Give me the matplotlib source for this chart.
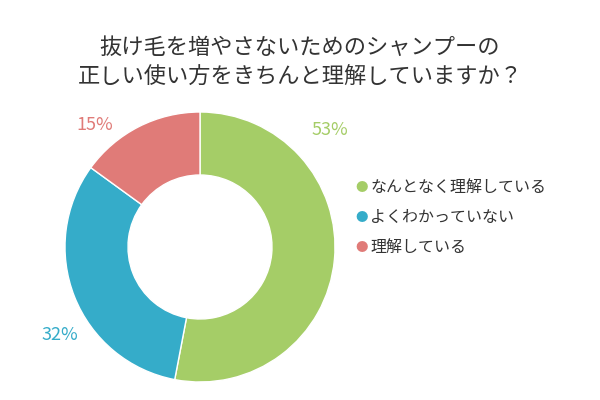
import matplotlib
matplotlib.use("Agg")
import matplotlib.pyplot as plt

categories = ["なんとなく理解している", "よくわかっていない", "理解している"]
values = [53, 32, 15]
colors = ["#a5cd67", "#35acc9", "#e07b78"]
title = "抜け毛を増やさないためのシャンプーの\n正しい使い方をきちんと理解していますか？"

plt.rcParams["font.family"] = "Noto Sans CJK JP"
fig = plt.figure(figsize=(6, 4), dpi=100)
fig.text(0.5, 1 - 62/400, title, ha="center", va="center", fontsize=16, color="#333333", linespacing=1.35)

ax = fig.add_axes([65/600, 18/400, 270/600, 270/400])
wedges, _ = ax.pie(values, colors=colors, startangle=90, counterclock=False, radius=1,
                   wedgeprops=dict(width=(135-72)/135, edgecolor="white", linewidth=1))
ax.set_xlim(-1, 1); ax.set_ylim(-1, 1)
ax.set_aspect("equal")

label_pos = [(330, 130), (60, 335), (95, 125)]
for v, c, (x, y) in zip(values, colors, label_pos):
    fig.text(x/600, 1 - y/400, f"{v}%", color=c, fontsize=13, ha="center", va="center")

for i, (cat, c) in enumerate(zip(categories, colors)):
    y = 1 - (187 + i*30)/400
    fig.text(362/600, y, "●", color=c, fontsize=9, ha="center", va="center")
    fig.text(370/600, y, cat, color="#333333", fontsize=11.5, ha="left", va="center")

fig.savefig("out.png", dpi=100)
